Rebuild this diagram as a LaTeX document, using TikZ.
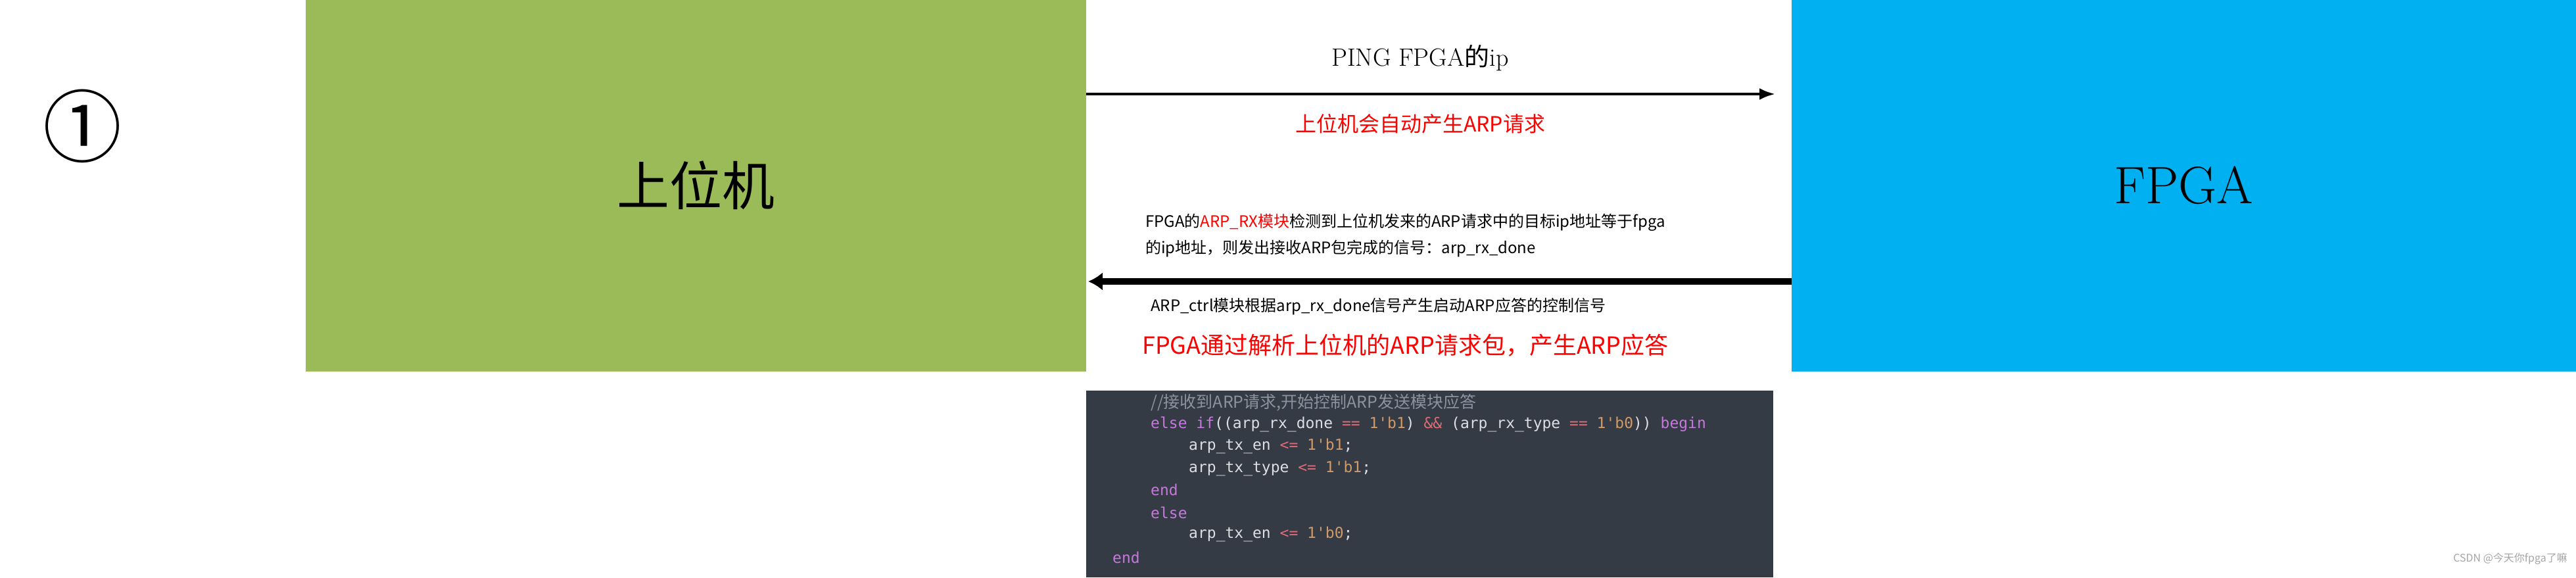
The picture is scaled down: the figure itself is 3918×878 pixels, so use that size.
\documentclass[tikz,border=0pt]{standalone}
\usepackage{fontspec}
\newfontfamily\cjk{Noto Sans CJK SC}
\newfontfamily\codefont{DejaVu Sans Mono}
\usetikzlibrary{arrows.meta,positioning}
\definecolor{hostgreen}{HTML}{9BBB59}
\definecolor{fpgablue}{HTML}{00B0F0}
\definecolor{codebg}{HTML}{353B45}
\definecolor{codetxt}{HTML}{DCDFE4}
\definecolor{codecom}{HTML}{8C93A0}
\definecolor{codekw}{HTML}{C678DD}
\definecolor{codenum}{HTML}{D19A66}
\definecolor{codeop}{HTML}{E06C75}
\newcommand{\kw}[1]{\textcolor{codekw}{#1}}
\newcommand{\nm}[1]{\textcolor{codenum}{#1}}
\newcommand{\op}[1]{\textcolor{codeop}{#1}}
\tikzset{
  note/.style={anchor=west,inner sep=0pt,font=\cjk\fontsize{24}{30}\selectfont},
  redline/.style={inner sep=0pt,text=red,font=\cjk\fontsize{#1}{#1}\selectfont},
  codeline/.style={anchor=west,inner sep=0pt,text=codetxt,font=\codefont\fontsize{23}{28}\selectfont},
}
\begin{document}
\begin{tikzpicture}[x=1pt,y=-1pt]
  \useasboundingbox (0,0) rectangle (3918,878);
  \fill[white] (0,0) rectangle (3918,878);
  % the two boxes
  \fill[hostgreen] (465,0) rectangle (1652,565);
  \fill[fpgablue] (2725,0) rectangle (3918,565);
  \node (host) at (1058,282) {\cjk\fontsize{80}{80}\selectfont 上位机};
  \node (fpga) at (3321,282) {\fontsize{80}{80}\selectfont FPGA};
  \node (num) at (125,192) {\cjk\fontsize{120}{120}\selectfont ①};
  \coordinate (hostr1) at (1652,143);
  \coordinate (fpgal1) at (2700,143);
  \coordinate (fpgal2) at (2725,428);
  \coordinate (hostr2) at (1655,428);
  % request
  \draw[line width=4pt,-{Latex[length=24pt,width=18pt]}] (hostr1) -- (fpgal1);
  \node (ping) at (2160,88) {\fontsize{38}{38}\selectfont PING FPGA{\cjk 的}ip};
  \node[redline=32] (req) at (2160,188) {上位机会自动产生ARP请求};
  % answer
  \node[note] (rx1) at (1742,338) {FPGA的\textcolor{red}{ARP\_RX模块}检测到上位机发来的ARP请求中的目标ip地址等于fpga};
  \node[note] (rx2) at (1742,378) {的ip地址，则发出接收ARP包完成的信号：arp\_rx\_done};
  \draw[line width=10pt,-{Latex[length=22pt,width=28pt]}] (fpgal2) -- (hostr2);
  \node[note] (ctrl) at (1750,466) {ARP\_ctrl模块根据arp\_rx\_done信号产生启动ARP应答的控制信号};
  \node[redline=36,anchor=west] (ans) at (1737,525) {FPGA通过解析上位机的ARP请求包，产生ARP应答};
  % code
  \fill[codebg] (1652,594) rectangle (2697,878);
  \node[codeline,text=codecom,font=\cjk\fontsize{25}{28}\selectfont] (c1) at (1750,612) {//接收到ARP请求,开始控制ARP发送模块应答};
  \node[codeline] (c2) at (1750,645) {\kw{else if}((arp\_rx\_done \op{==} \nm{1'b1}) \op{\&\&} (arp\_rx\_type \op{==} \nm{1'b0})) \kw{begin}};
  \node[codeline] (c3) at (1808,678) {arp\_tx\_en \op{<=} \nm{1'b1};};
  \node[codeline] (c4) at (1808,712) {arp\_tx\_type \op{<=} \nm{1'b1};};
  \node[codeline] (c5) at (1750,745) {\kw{end}};
  \node[codeline] (c6) at (1750,780) {\kw{else}};
  \node[codeline] (c7) at (1808,812) {arp\_tx\_en \op{<=} \nm{1'b0};};
  \node[codeline] (c8) at (1692,848) {\kw{end}};
  \node[anchor=east,inner sep=0pt,text=gray!70] (mark) at (3905,850) {\cjk\fontsize{16}{16}\selectfont CSDN @今天你fpga了嘛};
\end{tikzpicture}
\end{document}
